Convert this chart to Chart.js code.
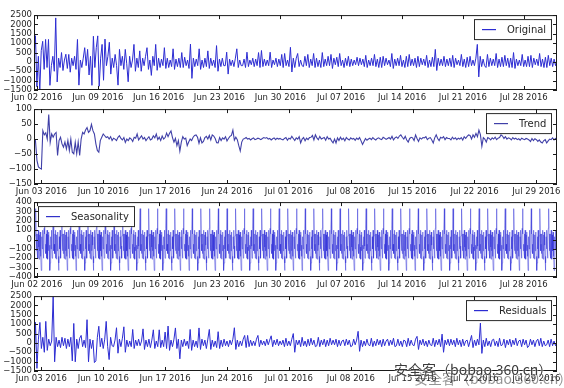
<!DOCTYPE html>
<html>
<head>
<meta charset="utf-8">
<script src="https://cdn.jsdelivr.net/npm/chart.js@4.4.1/dist/chart.umd.min.js"></script>
<style>
  body { margin: 0; background: #fff; width: 564px; height: 388px; overflow: hidden; position: relative; }
  .panel { position: absolute; left: 0; width: 564px; height: 100px; }
  .wm { position: absolute; font: 14px "Noto Sans CJK SC", sans-serif; white-space: nowrap; }
  .wm.a { left: 394px; top: 359px; color: #3a3a3a; text-shadow: 0 0 2px #fff, 0 0 2px #fff; }
  .wm.b { left: 414px; top: 368px; color: rgba(60,60,60,0.55); }
</style>
</head>
<body>
<div class="panel" style="top:8px"><canvas id="c-original" width="564" height="100"></canvas></div>
<div class="panel" style="top:102px"><canvas id="c-trend" width="564" height="100"></canvas></div>
<div class="panel" style="top:195px"><canvas id="c-season" width="564" height="100"></canvas></div>
<div class="panel" style="top:289px"><canvas id="c-resid" width="564" height="100"></canvas></div>
<div class="wm b">安全客（bobao.360.cn）</div>
<div class="wm a">安全客（bobao.360.cn）</div>

<script>
// ============================================
// Seasonal decomposition — 4 stacked panels
// time is in days since Jun 02 2016 00:00
// ============================================

// ========== DATA ==========
const STEP = 1 / 6;            // 4 hour samples
const ORIG_START = -1 / 3;     // Jun 01 16:00
const DECOMP_START = 1 / 6;    // trend / residual start (moving average eats the ends)

// observed series, one row per day
const original = [
  200, 1400, -1330, 300, -1550, 600,
  1100, -400, 1200, -300, 1200, -1250,
  -200, 300, -500, 2350, -1070, 200,
  -300, 500, -460, 100, 410, -350,
  400, -550, 200, -200, 300, -400,
  1200, -1240, 100, -300, 200, 760,
  -200, 670, -700, 300, -1250, 1370,
  -300, 760, 1390, -1300, 200, 935,
  -980, 1220, -200, 300, 1050, -650,
  200, -300, 400, -200, -1240, 670,
  -200, 300, -400, 670, -100, -1060,
  300, -300, 100, 935, -500, 200,
  -300, 590, -500, 200, -200, 300,
  760, -400, 100, -720, 300, -200,
  935, -450, 200, -300, 150, -200,
  760, -350, 200, -300, 100, -250,
  700, -400, 150, -250, 200, -300,
  500, -300, 250, -200, 100, -350,
  950, -880, 200, -250, 150, -200,
  700, -400, 100, -300, 200, -250,
  590, -350, 200, -200, 100, -300,
  870, -500, 150, -250, 200, -200,
  -200, 520, -650, 150, -200, 100,
  -250, 200, 700, -300, 100, -200,
  -200, 150, -300, 520, -250, 100,
  -150, 200, -250, 150, -200, 500,
  -300, 610, -250, 150, -200, 100,
  -200, 520, -300, 100, -150, 200,
  -250, 150, -200, 400, -300, 450,
  -200, 100, -250, 780, -540, 200,
  -300, 200, 450, -250, 100, -200,
  -250, 300, -200, 400, -300, 150,
  -200, 450, -300, 200, -250, 100,
  -300, 500, -250, 150, -200, 300,
  -200, 400, -350, 200, -150, 250,
  -250, 450, -200, 100, -300, 200,
  -200, 300, -250, 150, -200, 100,
  -150, 250, -200, 200, -150, 150,
  -250, 350, -300, 100, -200, 200,
  -200, 400, -250, 150, -300, 250,
  -300, 300, -200, 200, -150, 100,
  -250, 450, -350, 150, -200, 200,
  -200, 350, -250, 100, -300, 300,
  -250, 400, -200, 150, -200, 200,
  -300, 300, -250, 200, -150, 150,
  -200, 350, -300, 100, -250, 250,
  -250, 670, -460, 200, -200, 150,
  -200, 300, -250, 150, -200, 200,
  -250, 350, -300, 200, -150, 100,
  -200, 400, -250, 150, -300, 250,
  -250, 300, -200, 100, -200, 200,
  935, -800, 300, -250, 150, -200,
  -300, 400, -250, 200, -200, 150,
  -200, 450, -300, 150, -250, 250,
  -250, 350, -200, 200, -300, 200,
  -300, 500, -350, 150, -200, 100,
  -200, 400, -250, 100, -250, 300,
  -250, 350, -300, 200, -150, 150,
  -200, 450, -250, 150, -300, 250,
  -300, 350, -200, 200, -250, 150,
  -200, 150
];

const trend = [
  -11, -5, -71, -93, -97, -100,
  28, 14, 21, 0, 82, -11,
  17, 6, 17, 22, -55, -5,
  6, -16, -27, -10, -33, -5,
  -38, 0, -44, -49, -11, -49,
  -10, -55, 0, 22, 17, 30,
  38, 22, 28, 49, 28, 17,
  -16, -38, -44, -5, 6, 17,
  11, 5, 8, 0, 8, -5,
  3, 0, -5, 6, 11, 2,
  -3, 5, -11, 0, -5, 4,
  0, -8, 6, 3, 17, -3,
  4, 11, 0, 5, -5, 2,
  8, -3, 0, 11, 4, 17,
  -2, 6, -5, 10, 0, 5,
  20, 8, 19, 27, 5, -10,
  2, -22, -5, -40, -10, 8,
  0, 3, -22, -10, 0, -5,
  6, 12, 14, 6, -14, 4,
  -13, -8, 5, 9, 0, 12,
  -3, 14, 10, 2, -12, -13,
  5, -5, 4, 0, 8, -6,
  2, 9, 12, 30, -4, 6,
  -2, -22, -40, -10, 0, 2,
  5, 0, 2, -3, 1, 4,
  -2, 0, 3, 1, -2, 2,
  5, 3, 5, 0, 2, -3,
  1, 4, -2, 3, 0, 2,
  -1, -3, 2, 5, -4, 3,
  0, 9, 2, -5, 4, 0,
  8, -13, 0, 5, -6, 3,
  -2, 5, 6, 12, -3, 14,
  4, -2, 9, 0, 3, 5,
  -4, 8, 0, 3, -6, -13,
  0, -13, 4, -5, 6, -2,
  3, -6, 5, 0, -3, 4,
  0, 2, -4, 3, -1, 5,
  -6, -18, -8, 2, -4, 0,
  3, -2, 5, 0, -3, 2,
  4, 0, -2, 6, 3, -1,
  2, 5, 0, 9, -3, 4,
  7, 2, 10, 14, 6, 0,
  9, -3, -10, 2, 6, 4,
  -5, 14, 2, -8, 4, 0,
  5, 4, 8, -2, 3, 5,
  -3, -13, 4, 14, 2, -5,
  6, 3, 8, -2, 5, 2,
  2, -3, 6, 0, 4, -2,
  3, 0, 5, -3, 8, 2,
  9, 14, 12, 0, 14, 6,
  19, 8, 30, 15, -24, 5,
  0, -10, 5, 2, -3, 4,
  0, 6, -2, 3, 5, 14,
  10, 2, 8, 0, 4, 2,
  -3, 5, 0, 3, -2, 1,
  -4, 3, 0, -2, 2, 0,
  -3, -8, 2, -5, 1, -2,
  -8, -3, -10, -13, -5, -2,
  -13, -6, 0, -2, 4, -3,
  2, 0
];

// one daily cycle of the seasonal component, hours 00..23
const seasonDay = [
  -50, -150, 60, -200, 100, -80, -210, 50, -120, 80, -60, -180,
  -330, -250, 30, -100, 100, -70, -200, 40, 120, 330, 60, -120
];
const SEASON_FIRST_HOUR = -8;        // Jun 01 16:00
const SEASON_LAST_HOUR = 59 * 24 + 20;

const residual = [
  -1350, 1095, -1360, 200, 1095, -300,
  300, -500, 1150, -400, 200, -150,
  100, 2460, -1010, 300, -200, 150,
  -250, 300, -150, 250, -300, 200,
  -200, 300, -960, 1040, -1010, 200,
  -300, 250, 400, -200, 150, -250,
  1240, -1010, 200, -300, 150, -1050,
  -960, 300, 890, -200, 250, -300,
  200, 1150, -200, -890, 300, -150,
  -200, 150, 810, -550, 200, -200,
  250, 860, -500, 150, -200, 100,
  -200, 720, -300, 150, -150, 200,
  -150, 100, 750, -350, 150, -200,
  200, -250, 150, 700, -300, 100,
  -200, 700, -250, 150, -200, 580,
  -300, 900, -400, 150, -200, 200,
  800, -300, 200, -850, 150, -200,
  200, -150, 100, -300, 720, -400,
  150, -200, 100, -250, 800, -350,
  200, -150, 150, -300, 200, 720,
  -350, 150, -200, 100, -250, 600,
  -300, 150, -200, 200, -150, 100,
  -200, 150, -100, 200, 810, -350,
  150, -200, 100, -150, 200, 400,
  -250, 400, -200, 150, -150, 100,
  -150, 200, 400, -200, 150, -100,
  100, -150, 200, -100, 150, 380,
  -200, 150, -100, 200, -150, 100,
  -100, 150, -200, 250, -150, 100,
  -150, 200, 500, -500, 150, -100,
  150, -200, 300, -150, 100, -200,
  200, -150, 250, -100, 150, -200,
  -150, 300, -200, 150, -100, 200,
  -200, 150, -150, 250, -100, 150,
  -100, 200, -200, 150, -150, 100,
  150, -150, 200, -100, 150, -200,
  -150, 200, -100, 150, 620, -450,
  150, -200, 100, -150, 200, -100,
  -150, 250, -200, 100, -150, 200,
  -100, 150, -200, 200, -150, 100,
  200, -150, 150, -100, 250, -200,
  -150, 200, -150, 100, -200, 150,
  100, -200, 250, -150, 150, -100,
  -150, 200, 350, -350, 150, -100,
  200, -150, 100, -200, 150, -100,
  -150, 250, -200, 150, -100, 200,
  -200, 470, -500, 150, -100, 200,
  -150, 200, -100, 150, -200, 250,
  -100, 150, -200, 200, -150, 100,
  150, -200, 100, 400, -250, 150,
  -150, 200, -100, 1060, -560, 150,
  -200, 250, -150, 100, -200, 150,
  200, -150, 100, -200, 250, -150,
  -100, 200, -250, 150, -100, 200,
  -200, 150, -100, 250, -150, 100,
  150, -200, 200, -100, 150, -250,
  -150, 200, -100, 150, -200, 100,
  200, -150, 250, -200, 100, -150,
  -100, 150, -200, 200, -150, 100,
  -150, 100
];

// ========== TICKS ==========
const weekTicksA = [0, 7, 14, 21, 28, 35, 42, 49, 56];
const weekLabelsA = ['Jun 02 2016', 'Jun 09 2016', 'Jun 16 2016', 'Jun 23 2016', 'Jun 30 2016',
                     'Jul 07 2016', 'Jul 14 2016', 'Jul 21 2016', 'Jul 28 2016'];
const weekTicksB = [1, 8, 15, 22, 29, 36, 43, 50, 57];
const weekLabelsB = ['Jun 03 2016', 'Jun 10 2016', 'Jun 17 2016', 'Jun 24 2016', 'Jul 01 2016',
                     'Jul 08 2016', 'Jul 15 2016', 'Jul 22 2016', 'Jul 29 2016'];
const bigTicks = [-1500, -1000, -500, 0, 500, 1000, 1500, 2000, 2500];
const trendTicks = [-150, -100, -50, 0, 50, 100];
const seasonTicks = [-400, -300, -200, -100, 0, 100, 200, 300, 400];

// ========== HELPERS ==========
const toPoints = (vals, start) => vals.map((y, i) => ({ x: start + i * STEP, y }));

function seasonPoints() {
  const pts = [];
  for (let h = SEASON_FIRST_HOUR; h <= SEASON_LAST_HOUR; h++) {
    pts.push({ x: h / 24, y: seasonDay[((h % 24) + 24) % 24] });
  }
  return pts;
}

const minus = v => (v < 0 ? '\u2212' + Math.abs(v) : String(v));
const TEXT = '#262626';
const FONT = { family: "'DejaVu Sans', sans-serif", size: 8.5 };

// axes frame + inward tick marks (classic matplotlib look)
const framePlugin = {
  id: 'frame',
  afterDatasetsDraw(chart) {
    const { ctx, chartArea: a, scales } = chart;
    ctx.save();
    ctx.strokeStyle = '#1a1a1a';
    ctx.lineWidth = 1;
    ctx.strokeRect(a.left + 0.5, a.top + 0.5, a.right - a.left - 1, a.bottom - a.top - 1);
    ctx.beginPath();
    scales.x.ticks.forEach(t => {
      const px = Math.round(scales.x.getPixelForValue(t.value)) + 0.5;
      ctx.moveTo(px, a.bottom); ctx.lineTo(px, a.bottom - 4);
      ctx.moveTo(px, a.top); ctx.lineTo(px, a.top + 4);
    });
    scales.y.ticks.forEach(t => {
      const py = Math.round(scales.y.getPixelForValue(t.value)) + 0.5;
      ctx.moveTo(a.left, py); ctx.lineTo(a.left + 4, py);
      ctx.moveTo(a.right, py); ctx.lineTo(a.right - 4, py);
    });
    ctx.stroke();
    ctx.restore();
  }
};

// boxed legend drawn inside the axes
const boxLegend = {
  id: 'boxLegend',
  afterDraw(chart, args, opts) {
    const { ctx, chartArea: a } = chart;
    const ds = chart.data.datasets[0];
    ctx.save();
    ctx.font = "10px 'DejaVu Sans', sans-serif";
    const tw = ctx.measureText(ds.label).width;
    const w = Math.round(33 + tw + 5), h = 20;
    const x = opts.side === 'left' ? a.left + 4 : a.right - 6 - w;
    const y = a.top + 4;
    ctx.fillStyle = '#fff';
    ctx.fillRect(x, y, w, h);
    ctx.strokeStyle = '#2a2a2a';
    ctx.lineWidth = 1;
    ctx.strokeRect(x + 0.5, y + 0.5, w, h);
    ctx.strokeStyle = opts.swatch;
    ctx.lineWidth = 1.2;
    ctx.beginPath();
    ctx.moveTo(x + 8, y + h / 2 + 0.5);
    ctx.lineTo(x + 22, y + h / 2 + 0.5);
    ctx.stroke();
    ctx.fillStyle = TEXT;
    ctx.textBaseline = 'middle';
    ctx.fillText(ds.label, x + 33, y + h / 2 + 1);
    ctx.restore();
  }
};

function makePanel(canvasId, label, points, opts) {
  const ctx = document.getElementById(canvasId);
  new Chart(ctx, {
    type: 'line',
    data: {
      datasets: [{
        label,
        data: points,
        borderColor: opts.color,
        borderWidth: opts.width,
        pointRadius: 0,
        tension: 0,
        clip: 0
      }]
    },
    options: {
      responsive: false,
      devicePixelRatio: 1,
      animation: false,
      parsing: false,
      normalized: true,
      layout: { padding: { top: 6, right: 7, left: 0, bottom: 0 } },
      plugins: {
        legend: { display: false },
        tooltip: { enabled: false },
        boxLegend: { side: opts.legendSide, swatch: opts.swatch || opts.color }
      },
      scales: {
        x: {
          type: 'linear',
          min: opts.xMin,
          max: opts.xMax,
          grid: { display: false, drawTicks: false },
          border: { display: false },
          afterBuildTicks: s => { s.ticks = opts.tickDays.map(value => ({ value })); },
          afterFit: s => { s.height = 18; s.paddingLeft = 0; s.paddingRight = 0; },
          ticks: {
            autoSkip: false,
            maxRotation: 0,
            padding: 3,
            color: TEXT,
            font: FONT,
            callback: (v, i) => opts.tickLabels[i]
          }
        },
        y: {
          min: opts.yTicks[0],
          max: opts.yTicks[opts.yTicks.length - 1],
          grid: { display: false, drawTicks: false },
          border: { display: false },
          afterBuildTicks: s => { s.ticks = opts.yTicks.map(value => ({ value })); },
          afterFit: s => { s.width = 34; },
          ticks: {
            autoSkip: false,
            padding: 2,
            color: TEXT,
            font: FONT,
            callback: (v, i) => minus(opts.yTicks[i])
          }
        }
      }
    },
    plugins: [framePlugin, boxLegend]
  });
}

// ========== BUILD ==========
const origEnd = ORIG_START + (original.length - 1) * STEP;
const decompEnd = DECOMP_START + (trend.length - 1) * STEP;

makePanel('c-original', 'Original', toPoints(original, ORIG_START), {
  color: '#2c2cd2', width: 1, legendSide: 'right',
  xMin: ORIG_START, xMax: origEnd, tickDays: weekTicksA, tickLabels: weekLabelsA,
  yTicks: bigTicks
});

makePanel('c-trend', 'Trend', toPoints(trend, DECOMP_START), {
  color: '#4040a8', width: 1.1, legendSide: 'right',
  xMin: DECOMP_START, xMax: decompEnd, tickDays: weekTicksB, tickLabels: weekLabelsB,
  yTicks: trendTicks
});

makePanel('c-season', 'Seasonality', seasonPoints(), {
  color: 'rgba(45,45,215,0.6)', swatch: '#3030c8', width: 0.8, legendSide: 'left',
  xMin: ORIG_START, xMax: origEnd, tickDays: weekTicksA, tickLabels: weekLabelsA,
  yTicks: seasonTicks
});

makePanel('c-resid', 'Residuals', toPoints(residual, DECOMP_START), {
  color: '#2c2cd2', width: 1, legendSide: 'right',
  xMin: DECOMP_START, xMax: decompEnd, tickDays: weekTicksB, tickLabels: weekLabelsB,
  yTicks: bigTicks
});
</script>
</body>
</html>
